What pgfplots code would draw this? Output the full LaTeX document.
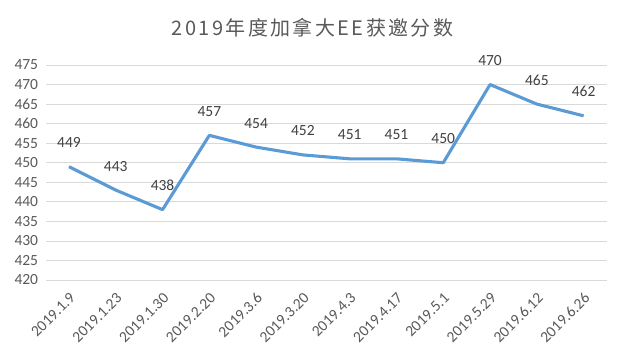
\documentclass[border=0pt]{standalone}
\usepackage{fontspec}
\setmainfont{Carlito}
\newfontfamily\cjk[LetterSpace=12]{Noto Sans CJK SC}
\usepackage{pgfplots}
\pgfplotsset{compat=1.18}
\definecolor{linecol}{HTML}{5B9BD5}
\definecolor{gridcol}{HTML}{D9D9D9}
\definecolor{tickcol}{HTML}{595959}
\definecolor{labcol}{HTML}{404040}
\begin{document}
\begin{tikzpicture}
\path[use as bounding box] (0,0) rectangle (626bp,362bp);
\begin{axis}[
  at={(45.6bp,82bp)}, anchor=south west,
  scale only axis, width=561.4bp, height=215bp,
  xmin=-0.5, xmax=11.5, ymin=420, ymax=475,
  ytick={420,425,...,475},
  xtick={0,...,11},
  xticklabels={2019.1.9,2019.1.23,2019.1.30,2019.2.20,2019.3.6,2019.3.20,2019.4.3,2019.4.17,2019.5.1,2019.5.29,2019.6.12,2019.6.26},
  axis line style={draw=none},
  major tick length=0pt,
  ymajorgrids, grid style={color=gridcol, line width=0.75bp},
  /pgf/number format/assume math mode=true,
  /pgf/number format/1000 sep={},
  yticklabel style={color=tickcol, font=\fontsize{15.5bp}{17bp}\selectfont, xshift=-4bp},
  xticklabel style={color=tickcol, font=\fontsize{15.5bp}{17bp}\selectfont, xshift=6bp, yshift=-13bp, rotate=45, anchor=east},
  nodes near coords,
  every node near coord/.append style={color=labcol, font=\fontsize{15.5bp}{17bp}\selectfont, anchor=base, inner sep=0pt, yshift=19bp},
  clip=false,
]
\addplot[color=linecol, line width=3.1bp, line join=round, mark=none] coordinates {
(0,449) (1,443) (2,438) (3,457) (4,454) (5,452) (6,451) (7,451) (8,450) (9,470) (10,465) (11,462)
};
\end{axis}
\node[anchor=base, color=tickcol, font=\cjk\fontsize{20bp}{24bp}\selectfont, inner sep=0pt] at (312.5bp,326bp) {2019年度加拿大EE获邀分数};
\end{tikzpicture}
\end{document}
